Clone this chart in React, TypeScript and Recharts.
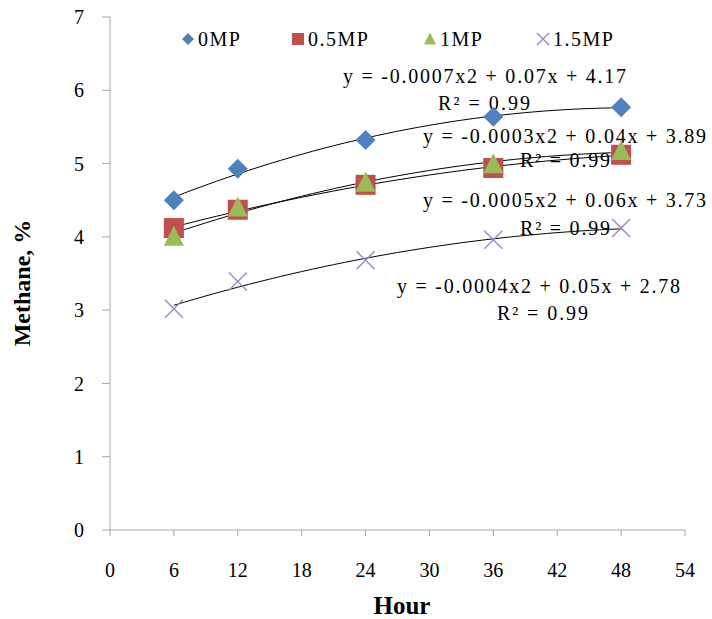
import React from "react";
import { ComposedChart, Scatter, Line, XAxis, YAxis, Legend } from "recharts";

const hours = [6, 12, 24, 36, 48];
const methane0 = [4.5, 4.93, 5.32, 5.64, 5.77];
const methane05 = [4.12, 4.37, 4.71, 4.94, 5.12];
const methane1 = [4.0, 4.4, 4.74, 4.99, 5.17];
const methane15 = [3.02, 3.39, 3.68, 3.96, 4.12];

const seriesNames = ["0MP", "0.5MP", "1MP", "1.5MP"];
const equationLabels = [
  "y = -0.0007x2 + 0.07x + 4.17",
  "y = -0.0003x2 + 0.04x + 3.89",
  "y = -0.0005x2 + 0.06x + 3.73",
  "y = -0.0004x2 + 0.05x + 2.78",
];
const rSquaredLabels = ["R² = 0.99", "R² = 0.99", "R² = 0.99", "R² = 0.99"];

const xTicks = [0, 6, 12, 18, 24, 30, 36, 42, 48, 54];
const yTicks = [0, 1, 2, 3, 4, 5, 6, 7];

const FONT = "'Liberation Serif', 'Times New Roman', serif";
const AXIS_GREY = "#a6a6a6";

// least-squares fit of y = a*x^2 + b*x + c (Excel's polynomial trendline, order 2)
function fitQuadratic(xs: number[], ys: number[]) {
  let s0 = 0, s1 = 0, s2 = 0, s3 = 0, s4 = 0, t0 = 0, t1 = 0, t2 = 0;
  xs.forEach((x, i) => {
    const y = ys[i];
    s0 += 1; s1 += x; s2 += x * x; s3 += x * x * x; s4 += x * x * x * x;
    t0 += y; t1 += x * y; t2 += x * x * y;
  });
  const det3 = (m: number[][]) =>
    m[0][0] * (m[1][1] * m[2][2] - m[1][2] * m[2][1]) -
    m[0][1] * (m[1][0] * m[2][2] - m[1][2] * m[2][0]) +
    m[0][2] * (m[1][0] * m[2][1] - m[1][1] * m[2][0]);
  const M = [[s4, s3, s2], [s3, s2, s1], [s2, s1, s0]];
  const T = [t2, t1, t0];
  const D = det3(M);
  const solve = (col: number) => det3(M.map((row, r) => row.map((v, c) => (c === col ? T[r] : v)))) / D;
  return { a: solve(0), b: solve(1), c: solve(2) };
}

function trendPoints(ys: number[]) {
  const { a, b, c } = fitQuadratic(hours, ys);
  const pts: { x: number; y: number }[] = [];
  for (let x = hours[0]; x <= hours[hours.length - 1]; x += 1) {
    pts.push({ x, y: a * x * x + b * x + c });
  }
  return pts;
}

const Diamond = ({ cx, cy, r = 10, fill }: any) => (
  <polygon points={`${cx},${cy - r} ${cx + r},${cy} ${cx},${cy + r} ${cx - r},${cy}`} fill={fill} />
);
const Square = ({ cx, cy, r = 10, fill }: any) => (
  <rect x={cx - r} y={cy - r} width={r * 2} height={r * 2} fill={fill} />
);
const Triangle = ({ cx, cy, r = 10, fill }: any) => (
  <polygon points={`${cx},${cy - r * 1.1} ${cx + r},${cy + r * 0.9} ${cx - r},${cy + r * 0.9}`} fill={fill} />
);
const Cross = ({ cx, cy, r = 9, fill }: any) => (
  <g stroke={fill} strokeWidth={1.4}>
    <line x1={cx - r} y1={cy - r} x2={cx + r} y2={cy + r} />
    <line x1={cx - r} y1={cy + r} x2={cx + r} y2={cy - r} />
  </g>
);

const series = [
  { name: seriesNames[0], values: methane0, color: "#4f81bd", Marker: Diamond },
  { name: seriesNames[1], values: methane05, color: "#c0504d", Marker: Square },
  { name: seriesNames[2], values: methane1, color: "#9bbb59", Marker: Triangle },
  { name: seriesNames[3], values: methane15, color: "#9c88c8", Marker: Cross },
];

// where each trendline's equation and R² sit (left x, baseline y, text width)
const eqBoxes = [
  { x: 343, y: 83, w: 283, rx: 438, ry: 110, rw: 92 },
  { x: 423, y: 143, w: 283, rx: 520, ry: 167, rw: 90 },
  { x: 423, y: 207, w: 283, rx: 520, ry: 235, rw: 90 },
  { x: 397, y: 293, w: 283, rx: 497, ry: 320, rw: 91 },
];

const legendSlots = [188, 298, 430, 543];

const renderLegend = () => (
  <svg width={712} height={60}>
    {series.map((s, i) => {
      const M = s.Marker;
      return (
        <g key={s.name}>
          <M cx={legendSlots[i]} cy={39} r={6} fill={s.color} />
          <text x={legendSlots[i] + 10} y={46} fontFamily={FONT} fontSize={20} letterSpacing={1.5} fill="#000">
            {s.name}
          </text>
        </g>
      );
    })}
  </svg>
);

export default function App() {
  return (
    <div style={{ position: "absolute", top: 0, left: 0, width: 712, height: 619, background: "#fff" }}>
      <ComposedChart width={712} height={619} margin={{ top: 17, right: 27, bottom: 49, left: 70 }}>
        <XAxis
          type="number"
          dataKey="x"
          domain={[0, 54]}
          ticks={xTicks}
          interval={0}
          height={40}
          stroke={AXIS_GREY}
          tickSize={6}
          tickMargin={27}
          tick={{ fill: "#000", fontSize: 20, fontFamily: FONT }}
          allowDataOverflow
        />
        <YAxis
          type="number"
          domain={[0, 7]}
          ticks={yTicks}
          interval={0}
          width={40}
          stroke={AXIS_GREY}
          tickSize={8}
          tickMargin={18}
          tick={{ fill: "#000", fontSize: 20, fontFamily: FONT }}
          allowDataOverflow
        />
        <Legend
          verticalAlign="middle"
          align="center"
          layout="horizontal"
          wrapperStyle={{ top: 0, left: 0, width: 712, height: 60 }}
          content={renderLegend}
        />
        {series.map((s) => (
          <Scatter
            key={s.name}
            name={s.name}
            data={hours.map((h, i) => ({ x: h, y: s.values[i] }))}
            dataKey="y"
            fill={s.color}
            shape={(p: any) => <s.Marker cx={p.cx} cy={p.cy} fill={s.color} />}
            isAnimationActive={false}
          />
        ))}
        {series.map((s) => (
          <Line
            key={`trend-${s.name}`}
            data={trendPoints(s.values)}
            dataKey="y"
            type="linear"
            stroke="#000"
            strokeWidth={1}
            dot={false}
            activeDot={false}
            legendType="none"
            isAnimationActive={false}
          />
        ))}
        {eqBoxes.map((b, i) => (
          <g key={`eq-${i}`} fontFamily={FONT} fontSize={20} fill="#000">
            <text x={b.x} y={b.y} textLength={b.w} lengthAdjust="spacing">
              {equationLabels[i]}
            </text>
            <text x={b.rx} y={b.ry} textLength={b.rw} lengthAdjust="spacing">
              {rSquaredLabels[i]}
            </text>
          </g>
        ))}
        <text
          x={0}
          y={0}
          transform="translate(30, 283) rotate(-90)"
          textAnchor="middle"
          fontFamily={FONT}
          fontSize={24}
          fontWeight="bold"
          fill="#000"
        >
          Methane, %
        </text>
        <text x={402} y={614} textAnchor="middle" fontFamily={FONT} fontSize={25} fontWeight="bold" fill="#000">
          Hour
        </text>
      </ComposedChart>
    </div>
  );
}
